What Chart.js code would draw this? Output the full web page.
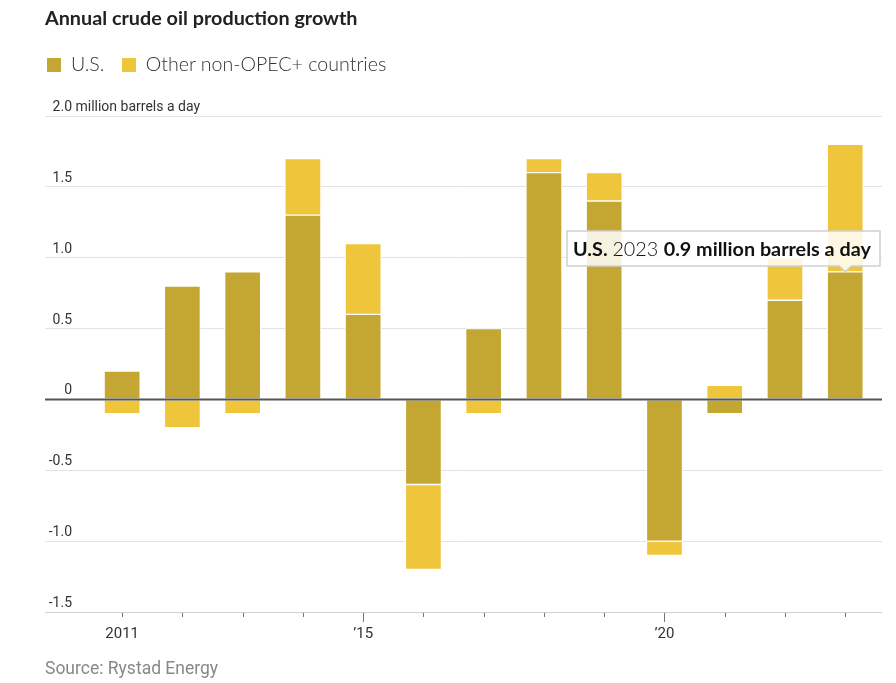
<!DOCTYPE html>
<html>
<head>
<meta charset="utf-8">
<script src="https://cdn.jsdelivr.net/npm/chart.js@4.4.1/dist/chart.umd.min.js"></script>
<style>
  body { margin: 0; background: #fff; }
  .wrap { position: relative; width: 896px; height: 683px; overflow: hidden; }
  canvas { position: absolute; left: 0; top: 0; }
  .title { position: absolute; left: 45px; top: 5px; font: 700 19.8px Lato, sans-serif; color: #222; }
  .legend { position: absolute; left: 47px; top: 52px; font: 300 19.6px Lato, sans-serif; color: #333; }
  .legend span.sw { display: inline-block; width: 14px; height: 14px; vertical-align: -1px; margin-right: 10px; }
  .legend span.item { margin-right: 12px; }
  .source { position: absolute; left: 45px; top: 658px; font: 17.5px 'Liberation Sans Narrow', Roboto, sans-serif; color: #888; }
</style>
</head>
<body>
<div class="wrap">
  <canvas id="chart" width="896" height="683"></canvas>
  <div class="title">Annual crude oil production growth</div>
  <div class="legend">
    <span class="item"><span class="sw" style="background:#c4a733"></span>U.S.</span>
    <span class="item"><span class="sw" style="background:#eec53b"></span>Other non-OPEC+ countries</span>
  </div>
  <div class="source">Source: Rystad Energy</div>
</div>
<script>
const years = [2011, 2012, 2013, 2014, 2015, 2016, 2017, 2018, 2019, 2020, 2021, 2022, 2023];
const usGrowth = [0.2, 0.8, 0.9, 1.3, 0.6, -0.6, 0.5, 1.6, 1.4, -1.0, -0.1, 0.7, 0.9];
const otherGrowth = [-0.1, -0.2, -0.1, 0.4, 0.5, -0.6, -0.1, 0.1, 0.2, -0.1, 0.1, 0.3, 0.9];
const yTicks = [2.0, 1.5, 1.0, 0.5, 0, -0.5, -1.0, -1.5];
const xLabels = { 2011: '2011', 2015: '\u201915', 2020: '\u201920' };

const US_COLOR = '#c4a733';
const OTHER_COLOR = '#eec53b';

// y labels sit above the gridlines, right aligned, top one carries the unit
const yLabelPlugin = {
    id: 'yLabels',
    afterDraw(chart) {
        const ctx = chart.ctx;
        const y = chart.scales.y;
        ctx.save();
        ctx.font = '14px "Liberation Sans Narrow", Roboto, sans-serif';
        ctx.fillStyle = '#333';
        ctx.textBaseline = 'alphabetic';
        yTicks.forEach(v => {
            const py = y.getPixelForValue(v);
            const txt = v === 0 ? '0' : v.toFixed(1);
            ctx.textAlign = 'right';
            ctx.fillText(txt, 72, py - 5);
            if (v === 2.0) {
                ctx.textAlign = 'left';
                ctx.fillText(' million barrels a day', 72, py - 5);
            }
        });
        // x tick marks
        const x = chart.scales.x;
        const base = chart.chartArea.bottom;
        ctx.strokeStyle = '#777';
        ctx.lineWidth = 1;
        years.forEach(yr => {
            const px = Math.round(x.getPixelForValue(yr)) + 0.5;
            const len = (yr === 2015 || yr === 2020) ? 9 : 4;
            ctx.beginPath();
            ctx.moveTo(px, base + 1);
            ctx.lineTo(px, base + 1 + len);
            ctx.stroke();
        });
        ctx.restore();
    }
};

// zero line goes over the bars, then the static callout on the 2023 U.S. bar
const calloutPlugin = {
    id: 'callout',
    afterDatasetsDraw(chart) {
        const ctx = chart.ctx;
        const area = chart.chartArea;
        const zy = chart.scales.y.getPixelForValue(0);
        ctx.save();
        ctx.strokeStyle = '#555';
        ctx.lineWidth = 2;
        ctx.beginPath();
        ctx.moveTo(area.left, zy);
        ctx.lineTo(area.right, zy);
        ctx.stroke();

        const el = chart.getDatasetMeta(0).data[12];
        const tipX = el.x;
        const tipY = el.y - 1;
        const right = 880, w = 313, h = 35;
        const left = right - w;
        const bottom = tipY - 5;
        const top = bottom - h;
        ctx.fillStyle = 'rgba(255,255,255,0.85)';
        ctx.strokeStyle = '#cfcfcf';
        ctx.lineWidth = 1.5;
        ctx.beginPath();
        ctx.moveTo(left, top);
        ctx.lineTo(right, top);
        ctx.lineTo(right, bottom);
        ctx.lineTo(tipX + 6, bottom);
        ctx.lineTo(tipX, bottom + 6);
        ctx.lineTo(tipX - 6, bottom);
        ctx.lineTo(left, bottom);
        ctx.closePath();
        ctx.fill();
        ctx.stroke();

        const parts = [
            { t: 'U.S. ', f: '700 19.8px Lato, sans-serif' },
            { t: '2023 ', f: '300 19.8px Lato, sans-serif' },
            { t: '0.9 million barrels a day', f: '700 19.8px Lato, sans-serif' }
        ];
        let tx = left + 6;
        const ty = top + 25;
        ctx.fillStyle = '#111';
        ctx.textAlign = 'left';
        parts.forEach(p => {
            ctx.font = p.f;
            ctx.fillText(p.t, tx, ty);
            tx += ctx.measureText(p.t).width;
        });
        ctx.restore();
    }
};

const ctx = document.getElementById('chart').getContext('2d');
const chart = new Chart(ctx, {
    type: 'bar',
    data: {
        datasets: [{
            label: 'U.S.',
            data: years.map((yr, i) => ({ x: yr, y: usGrowth[i] })),
            backgroundColor: US_COLOR,
            borderColor: '#fff',
            borderWidth: 1,
            borderSkipped: false
        }, {
            label: 'Other non-OPEC+ countries',
            data: years.map((yr, i) => ({ x: yr, y: otherGrowth[i] })),
            backgroundColor: OTHER_COLOR,
            borderColor: '#fff',
            borderWidth: 1,
            borderSkipped: false
        }]
    },
    options: {
        responsive: false,
        animation: false,
        barThickness: 36,
        layout: { padding: { left: 45, right: 14, top: 116, bottom: 31 } },
        plugins: {
            legend: { display: false },
            tooltip: { enabled: false }
        },
        scales: {
            x: {
                type: 'linear',
                stacked: true,
                offset: false,
                bounds: 'data',
                min: 2009.72,
                max: 2023.61,
                afterBuildTicks: s => { s.ticks = years.map(v => ({ value: v })); },
                afterFit: s => { s.height = 40; },
                grid: { display: false, drawTicks: false, offset: false },
                border: { display: false },
                ticks: {
                    autoSkip: false,
                    maxRotation: 0,
                    padding: 13,
                    color: '#333',
                    font: { family: '"Liberation Sans Narrow", Roboto, sans-serif', size: 15 },
                    callback: v => xLabels[v] || ''
                }
            },
            y: {
                stacked: true,
                min: -1.5,
                max: 2.0,
                afterBuildTicks: s => { s.ticks = yTicks.map(v => ({ value: v })); },
                afterFit: s => { s.width = 0; },
                ticks: { display: false },
                border: { display: false },
                grid: {
                    drawTicks: false,
                    color: c => c.tick.value === 0 ? 'rgba(0,0,0,0)' : (c.tick.value === -1.5 ? '#cfcfcf' : '#e3e3e3'),
                    lineWidth: 1
                }
            }
        }
    },
    plugins: [yLabelPlugin, calloutPlugin]
});
</script>
</body>
</html>
